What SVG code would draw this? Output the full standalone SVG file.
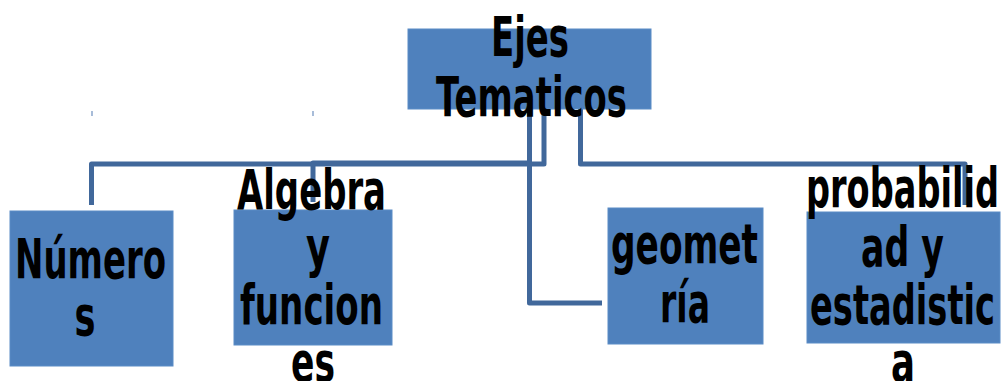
<svg xmlns="http://www.w3.org/2000/svg" width="1002" height="381" viewBox="0 0 1002 381">
<style>
.box{fill:#4F81BD;stroke:#5B8CC6;stroke-width:1}
.conn{fill:none;stroke:#41689B;stroke-width:5;stroke-linejoin:round}
.tick{stroke:#6D8FBF;stroke-width:1.2}
.t{font-family:"DejaVu Sans","Liberation Sans",sans-serif;font-weight:bold;font-size:55px;fill:#000;text-anchor:middle}
</style>
<rect width="1002" height="381" fill="#fff"/>
<g id="connectors">
<path class="conn" d="M544,109 V164 H91.5 V205"/>
<path class="conn" d="M529.5,109 V163 H313 V202"/>
<path class="conn" d="M529.5,109 V303 H602"/>
<path class="conn" d="M580.5,109 V164 H965 V205"/>
<line class="tick" x1="92" y1="111" x2="92" y2="116"/>
<line class="tick" x1="313" y1="111" x2="313" y2="116"/>
</g>
<g id="ejes">
<rect class="box" x="408" y="29" width="243" height="80"/>
<text class="t" x="530" y="56" textLength="78" lengthAdjust="spacingAndGlyphs">Ejes</text>
<text class="t" x="531.5" y="116" textLength="191" lengthAdjust="spacingAndGlyphs">Tematicos</text>
</g>
<g id="numeros">
<rect class="box" x="10" y="211" width="163" height="155"/>
<text class="t" x="90.5" y="278" textLength="151" lengthAdjust="spacingAndGlyphs">Número</text>
<text class="t" x="85" y="335" textLength="21" lengthAdjust="spacingAndGlyphs">s</text>
</g>
<g id="algebra">
<rect class="box" x="234" y="210" width="158" height="135"/>
<text class="t" x="311.5" y="209" textLength="149" lengthAdjust="spacingAndGlyphs">Algebra</text>
<text class="t" x="318" y="266" textLength="24" lengthAdjust="spacingAndGlyphs">y</text>
<text class="t" x="311.5" y="324" textLength="143" lengthAdjust="spacingAndGlyphs">funcion</text>
<text class="t" x="313" y="381" textLength="44" lengthAdjust="spacingAndGlyphs">es</text>
</g>
<g id="geometria">
<rect class="box" x="608" y="208" width="155" height="136"/>
<text class="t" x="684.5" y="263" textLength="147" lengthAdjust="spacingAndGlyphs">geomet</text>
<text class="t" x="685" y="322" textLength="50" lengthAdjust="spacingAndGlyphs">ría</text>
</g>
<g id="probabilidad">
<rect class="box" x="807" y="212" width="193" height="131"/>
<text class="t" x="902.5" y="207" textLength="193" lengthAdjust="spacingAndGlyphs">probabilid</text>
<text class="t" x="902.5" y="266" textLength="83" lengthAdjust="spacingAndGlyphs">ad y</text>
<text class="t" x="902.5" y="324" textLength="185" lengthAdjust="spacingAndGlyphs">estadistic</text>
<text class="t" x="903" y="381" textLength="24" lengthAdjust="spacingAndGlyphs">a</text>
</g>
</svg>
